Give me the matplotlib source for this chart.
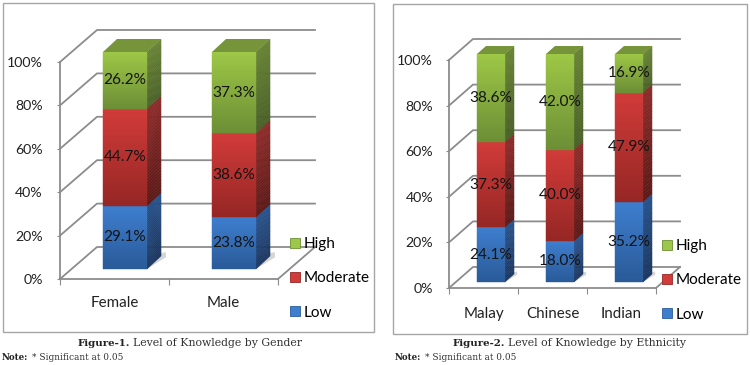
import numpy as np
import matplotlib
matplotlib.use("Agg")
import matplotlib.pyplot as plt
from matplotlib.collections import PolyCollection
from matplotlib.colors import to_rgb
from matplotlib.patches import Patch, Rectangle

W, H = 750, 365
series = ["Low", "Moderate", "High"]
gender_cats = ["Female", "Male"]
gender_low = [29.1, 23.8]
gender_mod = [44.7, 38.6]
gender_high = [26.2, 37.3]
eth_cats = ["Malay", "Chinese", "Indian"]
eth_low = [24.1, 18.0, 35.2]
eth_mod = [37.3, 40.0, 47.9]
eth_high = [38.6, 42.0, 16.9]
yticks = [0, 20, 40, 60, 80, 100]
ylabels = ["0%", "20%", "40%", "60%", "80%", "100%"]

front_c = {"Low": ("#3E7ECE", "#2A5B99"), "Moderate": ("#D13B39", "#962725"), "High": ("#9DC746", "#6D8F36")}
side_c = {"Low": ("#25508A", "#1A3560"), "Moderate": ("#8C2B29", "#5C1917"), "High": ("#668232", "#486026")}
cap_c = "#76953A"
GRID = "#8C8C8C"
SANS = "Lato"

plt.rcParams["font.family"] = SANS
fig = plt.figure(figsize=(W / 100, H / 100), dpi=100, facecolor="white")


def mix(a, b, t):
    a, b = np.array(to_rgb(a)), np.array(to_rgb(b))
    return tuple(a + (b - a) * t)


def skewed_gradient(ax, x0, x1, y0, y1, sk_y, cols, z, n=32):
    ed = np.linspace(y1, y0, n + 1)
    polys = [[(x0, ed[k]), (x1, ed[k] + sk_y), (x1, ed[k + 1] + sk_y), (x0, ed[k + 1])] for k in range(n)]
    colors = [mix(cols[0], cols[1], k / (n - 1)) for k in range(n)]
    ax.add_collection(PolyCollection(polys, facecolors=colors, edgecolors=colors, linewidths=0.3,
                                     zorder=z, clip_on=False))


def panel(rect, frame, cats, low, mod, high, depth, inset, bar_w, legend_anchor, xlab_pad, ylab_pad):
    x0, x1, ytop, ybot = rect
    n = len(cats)
    fig.add_artist(Rectangle((frame[0] / W, 1 - frame[3] / H), (frame[1] - frame[0]) / W,
                             (frame[3] - frame[2]) / H, transform=fig.transFigure,
                             fc="white", ec="#A6A6A6", lw=1.0, zorder=-5))
    ax = fig.add_axes([x0 / W, 1 - ybot / H, (x1 - x0) / W, (ybot - ytop) / H])
    ax.patch.set_visible(False)
    ax.set_xlim(0, n)
    ax.set_ylim(0, 100)
    ux, uy = n / (x1 - x0), 100 / (ybot - ytop)
    ddx, ddy = depth[0] * ux, depth[1] * uy
    for v in yticks:
        ax.plot([0, ddx, n + ddx], [v, v + ddy, v + ddy], color=GRID, lw=1.3, clip_on=False, zorder=1)
    ax.plot([n, n + ddx], [0, ddy], color=GRID, lw=1.3, clip_on=False, zorder=1)
    for s in ("top", "right"):
        ax.spines[s].set_visible(False)
    for s in ("left", "bottom"):
        ax.spines[s].set_color(GRID)
        ax.spines[s].set_linewidth(1.3)
    ax.set_yticks(yticks, ylabels, fontsize=10.2, color="#222222")
    ax.set_xticks(range(n + 1), [""] * (n + 1))
    ax.set_xticks(np.arange(n) + 0.5, cats, minor=True, fontsize=10.9, color="#222222")
    ax.tick_params(axis="y", length=2.5, color=GRID, pad=ylab_pad)
    ax.tick_params(axis="x", which="major", length=4, color=GRID, direction="out")
    ax.tick_params(axis="x", which="minor", length=0, pad=xlab_pad)

    odx, ody = inset[0] * ux, inset[1] * uy
    bdx, bdy = depth[2] * ux, depth[3] * uy
    for i in range(n):
        l = i + 0.5 - bar_w / 2 + odx
        r = i + 0.5 + bar_w / 2 + odx
        vals = np.array([low[i], mod[i], high[i]], float)
        vals = vals / vals.sum() * 100
        ax.fill([r, r + bdx * 1.35, r + bdx * 1.35, r], [ody, ody + bdy * 0.9, ody + bdy * 1.3, ody + bdy],
                color="#D5D5D5", lw=0, zorder=2, clip_on=False)
        base = 0
        for name, v, lab in zip(series, vals, [low[i], mod[i], high[i]]):
            y0, y1 = base + ody, base + v + ody
            skewed_gradient(ax, l, r, y0, y1, 0, front_c[name], 4)
            skewed_gradient(ax, r, r + bdx, y0, y1, bdy, side_c[name], 3)
            ax.text((l + r) / 2, (y0 + y1) / 2, f"{lab:.1f}%", ha="center", va="center",
                    fontsize=11.1, color="#141414", zorder=6, clip_on=False)
            base += v
        top = base + ody
        ax.fill([l, r, r + bdx, l + bdx], [top, top, top + bdy, top + bdy], color=cap_c, lw=0, zorder=5, clip_on=False)

    handles = [Patch(fc=front_c[s][0], ec=front_c[s][1], lw=0.6, label=s) for s in series[::-1]]
    fig.legend(handles=handles, loc="upper left", frameon=False,
               bbox_to_anchor=(legend_anchor[0] / W, 1 - legend_anchor[1] / H),
               fontsize=11, labelspacing=1.33, handlelength=0.65, handleheight=0.65,
               handletextpad=0.25, borderpad=0, borderaxespad=0)


panel((60, 278, 62, 279), (3, 374, 3, 332), gender_cats, gender_low, gender_mod, gender_high,
      (37, 32, 14, 13), (10.5, 10), 0.404, (290, 237), 12, 10)
panel((449, 656, 60, 288), (393, 747, 4, 334), eth_cats, eth_low, eth_mod, eth_high,
      (24, 21, 9, 8), (7.5, 6), 0.406, (662, 239), 14, 9)


def caption(x, y, bold, rest, x2):
    fig.text(x / W, 1 - y / H, bold, fontsize=7.4, fontweight="bold", family="DejaVu Serif", va="center", color="#222222")
    fig.text(x2 / W, 1 - y / H, rest, fontsize=7.8, family="DejaVu Serif", va="center", color="#333333")


caption(78, 343, "Figure-1.", "Level of Knowledge by Gender", 133)
caption(453, 343, "Figure-2.", "Level of Knowledge by Ethnicity", 508)
for xn, xr in ((2, 32), (395, 425)):
    fig.text(xn / W, 1 - 357 / H, "Note:", fontsize=6.2, fontweight="bold", family="DejaVu Serif", va="center", color="#222222")
    fig.text(xr / W, 1 - 357 / H, "* Significant at 0.05", fontsize=6.4, family="DejaVu Serif", va="center", color="#333333")

fig.savefig("out.png", dpi=100)
